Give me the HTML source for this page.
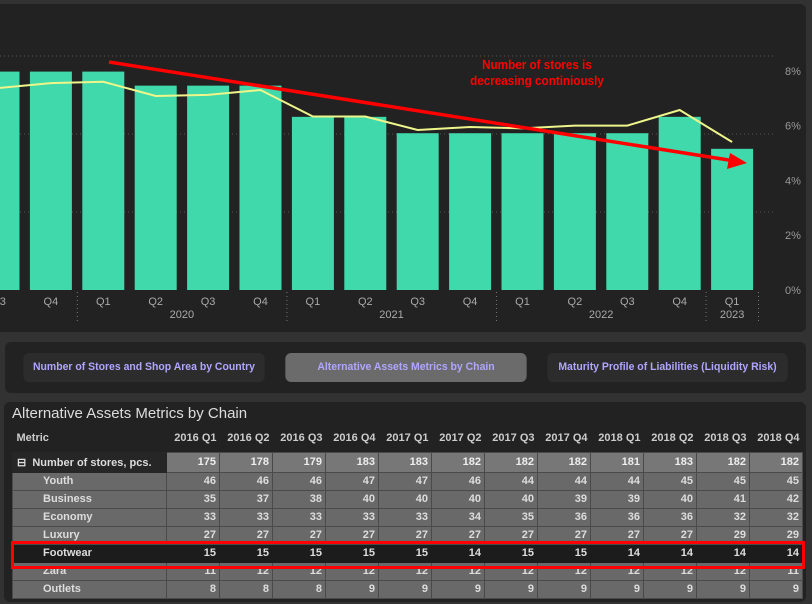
<!DOCTYPE html>
<html><head><meta charset="utf-8"><style>
body{margin:0;width:812px;height:604px;background:#323232;overflow:hidden;font-family:"Liberation Sans",sans-serif;position:relative}
.panel{position:absolute;background:#222;border-radius:6px}
.tab{position:absolute;top:353px;height:29px;border-radius:6px;background:#2c2c2c;color:#b0a6ff;font-size:11px;font-weight:bold;text-align:center;line-height:29px;transform:scaleX(0.95)}
table{position:absolute;left:12px;top:424px;border-collapse:collapse;font-size:11px;font-weight:bold;color:#ddd}
td,th{height:17px;padding:0 3px;text-align:right;white-space:nowrap}
th{font-weight:bold;color:#ccc;height:18px;width:47px}
td.v{background:#696969;border:1px solid #4a4a4a;width:46px}
tr.tot td{height:19px}
tr.tot td.v{background:#777;color:#eee}
td.n{text-align:left;background:#696969;border:1px solid #4a4a4a;padding-left:30px;width:120px}
tr.hl td{background:#1c1c1c!important;border-color:#1c1c1c}
</style></head><body>
<div class="panel" style="left:-6px;top:4px;width:812px;height:328px"></div>
<svg id="chart" width="812" height="340" style="position:absolute;left:0;top:0"></svg>
<div class="panel" style="left:5px;top:342px;width:801px;height:51px"></div>
<div class="tab" style="left:17px;width:254px">Number of Stores and Shop Area by Country</div>
<div class="tab" style="left:279px;width:254px;background:#6b6b6b">Alternative Assets Metrics by Chain</div>
<div class="tab" style="left:541px;width:253px">Maturity Profile of Liabilities (Liquidity Risk)</div>
<div class="panel" style="left:4px;top:402px;width:802px;height:200px"></div>
<div style="position:absolute;left:12px;top:405px;font-size:15px;color:#ddd">Alternative Assets Metrics by Chain</div>
<table id="tbl"></table>
<div style="position:absolute;left:11px;top:541px;width:788px;height:22px;border:3px solid #f00"></div>
<script>
const cats=["Q3","Q4","Q1","Q2","Q3","Q4","Q1","Q2","Q3","Q4","Q1","Q2","Q3","Q4","Q1"];
const years=[{l:"2020",a:2,b:5},{l:"2021",a:6,b:9},{l:"2022",a:10,b:13},{l:"2023",a:14,b:14}];
const bars=[280,280,280,262,262,262,222,222,201,201,201,201,201,222,181];
const line=[7.37,7.55,7.6,7.08,7.12,7.3,6.33,6.33,5.84,5.95,5.9,6.0,6.0,6.57,5.4];
const pctTicks=[0,2,4,6,8];
const barGrid=[100,200,300];
const NS="http://www.w3.org/2000/svg",svg=document.getElementById('chart');
const xc=i=>-1.5+i*52.4, yb=v=>290-v*0.78, yp=v=>290-v*27.4;
function mk(t,a){const e=document.createElementNS(NS,t);for(const k in a)e.setAttribute(k,a[k]);svg.appendChild(e);return e;}
barGrid.forEach(g=>{const e=mk('line',{x1:0,x2:774,y1:yb(g),y2:yb(g),stroke:'#555','stroke-dasharray':'1 3'});

});
pctTicks.forEach(t=>{const e=mk('text',{x:785,y:yp(t)+4,fill:'#999','font-size':11});e.textContent=t+'%';

});
bars.forEach((v,i)=>{const e=mk('rect',{x:xc(i)-21,y:yb(v),width:42,height:yb(0)-yb(v),fill:'#40d9ab'});


const t=mk('text',{x:xc(i),y:305,fill:'#aaa','font-size':11,'text-anchor':'middle'});t.textContent=cats[i];

});
const ln=mk('polyline',{points:line.map((v,i)=>xc(i)+','+yp(v)).join(' '),fill:'none',stroke:'#eef58a','stroke-width':2});


years.forEach(y=>{const t=mk('text',{x:(xc(y.a)+xc(y.b))/2,y:318,fill:'#aaa','font-size':11,'text-anchor':'middle'});t.textContent=y.l;

});
[2,6,10,14,15].forEach(i=>{const x=xc(i)-26;const e=mk('line',{x1:x,x2:x,y1:292,y2:322,stroke:'#777','stroke-dasharray':'1 3'});

});
const ar=mk('line',{x1:109,y1:62,x2:735,y2:161,stroke:'#f00','stroke-width':3.5});


const ah=mk('polygon',{points:'747,163 730,153 727,169',fill:'#f00'});


[["Number of stores is",69],["decreasing continiously",85]].forEach(([s,y])=>{const t=mk('text',{x:537,y:y,fill:'#f00','font-size':13,'font-weight':'bold','text-anchor':'middle',transform:'translate(537 0) scale(0.9 1) translate(-537 0)'});t.textContent=s;

});

const cols=["2016 Q1","2016 Q2","2016 Q3","2016 Q4","2017 Q1","2017 Q2","2017 Q3","2017 Q4","2018 Q1","2018 Q2","2018 Q3","2018 Q4"];
const rows=[["Number of stores, pcs.",[175,178,179,183,183,182,182,182,181,183,182,182]],
["Youth",[46,46,46,47,47,46,44,44,44,45,45,45]],["Business",[35,37,38,40,40,40,40,39,39,40,41,42]],
["Economy",[33,33,33,33,33,34,35,36,36,36,32,32]],["Luxury",[27,27,27,27,27,27,27,27,27,27,29,29]],
["Footwear",[15,15,15,15,15,14,15,15,14,14,14,14]],["Zara",[11,12,12,12,12,12,12,12,12,12,12,11]],
["Outlets",[8,8,8,9,9,9,9,9,9,9,9,9]]];
let h='<tr style="height:28px"><th style="text-align:left;width:140px;padding-left:4px">Metric</th>'+cols.map(c=>'<th>'+c+'</th>').join('')+'</tr>';
rows.forEach((r,i)=>{const cls=i==0?'tot':(r[0]=='Footwear'?'hl':'');
const name=i==0?'<td class="n" style="background:#262626;padding-left:4px;border-color:#262626">⊟ &nbsp;'+r[0]+'</td>':'<td class="n">'+r[0]+'</td>';
h+='<tr class="'+cls+'">'+name+r[1].map(v=>'<td class="v">'+v+'</td>').join('')+'</tr>';});
document.getElementById('tbl').innerHTML=h;
</script>
</body></html>
